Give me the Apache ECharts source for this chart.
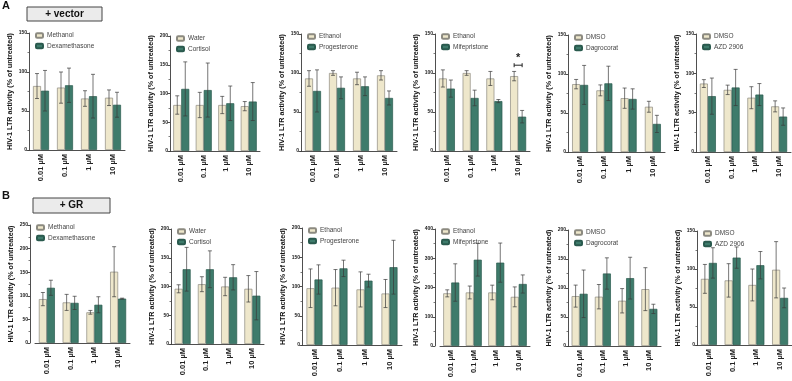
<!DOCTYPE html>
<html>
<head>
<meta charset="utf-8">
<script src="https://cdn.jsdelivr.net/npm/echarts@6/dist/echarts.min.js"></script>
<style>
  html, body { margin: 0; padding: 0; background: #fff; }
  #chart { width: 792px; height: 381px; }
</style>
</head>
<body>
<div id="chart"></div>
<script>
const categories = ['0.01 µM', '0.1 µM', '1 µM', '10 µM']

// row A: + vector (mean, sd in % of untreated)
const vecMethanol = [82, 80, 66, 67]
const vecMethanolSd = [16, 20, 10, 10]
const vecDexamethasone = [76, 83, 69, 58]
const vecDexamethasoneSd = [26, 22, 28, 16]

const vecWater = [80, 80, 80, 78]
const vecWaterSd = [16, 22, 15, 8]
const vecCortisol = [108, 106, 83, 86]
const vecCortisolSd = [47, 47, 30, 33]

const vecEthanolP = [93, 100, 93, 97]
const vecEthanolPSd = [10, 3, 8, 6]
const vecProgesterone = [77, 81, 83, 68]
const vecProgesteroneSd = [27, 14, 12, 9]

const vecEthanolM = [93, 100, 93, 96]
const vecEthanolMSd = [11, 3, 9, 6]
const vecMifepristone = [80, 68, 64, 44]
const vecMifepristoneSd = [11, 10, 2, 8]

const vecDmsoD = [87, 79, 69, 58]
const vecDmsoDSd = [6, 7, 13, 7]
const vecDagrocorat = [86, 88, 68, 36]
const vecDagrocoratSd = [25, 22, 13, 11]

const vecDmsoA = [87, 79, 69, 58]
const vecDmsoASd = [5, 6, 14, 7]
const vecAzd = [71, 82, 73, 45]
const vecAzdSd = [23, 23, 14, 11]

// row B: + GR
const grMethanol = [93, 86, 65, 151]
const grMethanolSd = [14, 17, 4, 53]
const grDexamethasone = [117, 85, 81, 94]
const grDexamethasoneSd = [16, 14, 17, 1]

const grWater = [96, 104, 100, 96]
const grWaterSd = [7, 13, 16, 23]
const grCortisol = [130, 130, 116, 84]
const grCortisolSd = [38, 32, 22, 42]

const grEthanolP = [97, 98, 95, 88]
const grEthanolPSd = [33, 31, 30, 24]
const grProgesterone = [112, 131, 110, 133]
const grProgesteroneSd = [25, 14, 11, 46]

const grEthanolM = [180, 183, 183, 168]
const grEthanolMSd = [12, 22, 25, 34]
const grMifepristone = [217, 295, 285, 212]
const grMifepristoneSd = [64, 56, 67, 31]

const grDmsoD = [86, 85, 78, 98]
const grDmsoDSd = [19, 21, 21, 37]
const grDagrocorat = [90, 125, 117, 64]
const grDagrocoratSd = [41, 27, 36, 8]

const grDmsoA = [87, 85, 79, 99]
const grDmsoASd = [19, 22, 21, 37]
const grAzd = [108, 115, 105, 62]
const grAzdSd = [20, 14, 18, 13]

// significance bracket (vector / mifepristone, 10 µM)
const sigMife = [[3, 110]]

const BEIGE = '#eee7cb'
const TEAL = '#3e7b6b'
const FONT = 'Liberation Sans'

// 面板布局
const panels = [
  { veh: 'Methanol', drug: 'Dexamethasone', v: vecMethanol, vs: vecMethanolSd, d: vecDexamethasone, ds: vecDexamethasoneSd, max: 150, step: 50, left: 29, top: 33, width: 96, height: 117, off: 0 },
  { veh: 'Water', drug: 'Cortisol', v: vecWater, vs: vecWaterSd, d: vecCortisol, ds: vecCortisolSd, max: 200, step: 50, left: 170, top: 36, width: 90, height: 115, off: 0 },
  { veh: 'Ethanol', drug: 'Progesterone', v: vecEthanolP, vs: vecEthanolPSd, d: vecProgesterone, ds: vecProgesteroneSd, max: 150, step: 50, left: 301, top: 34, width: 96, height: 117, off: 0 },
  { veh: 'Ethanol', drug: 'Mifepristone', v: vecEthanolM, vs: vecEthanolMSd, d: vecMifepristone, ds: vecMifepristoneSd, max: 150, step: 50, left: 435, top: 34, width: 95, height: 117, off: 0 },
  { veh: 'DMSO', drug: 'Dagrocorat', v: vecDmsoD, vs: vecDmsoDSd, d: vecDagrocorat, ds: vecDagrocoratSd, max: 150, step: 50, left: 568, top: 35, width: 97, height: 117, off: 0 },
  { veh: 'DMSO', drug: 'AZD 2906', v: vecDmsoA, vs: vecDmsoASd, d: vecAzd, ds: vecAzdSd, max: 150, step: 50, left: 696, top: 34, width: 95, height: 118, off: 0 },
  { veh: 'Methanol', drug: 'Dexamethasone', v: grMethanol, vs: grMethanolSd, d: grDexamethasone, ds: grDexamethasoneSd, max: 250, step: 50, left: 35, top: 225, width: 95, height: 118, off: 5 },
  { veh: 'Water', drug: 'Cortisol', v: grWater, vs: grWaterSd, d: grCortisol, ds: grCortisolSd, max: 200, step: 50, left: 171, top: 229, width: 93, height: 115, off: 0 },
  { veh: 'Ethanol', drug: 'Progesterone', v: grEthanolP, vs: grEthanolPSd, d: grProgesterone, ds: grProgesteroneSd, max: 200, step: 50, left: 302, top: 228, width: 100, height: 117, off: 0 },
  { veh: 'Ethanol', drug: 'Mifepristone', v: grEthanolM, vs: grEthanolMSd, d: grMifepristone, ds: grMifepristoneSd, max: 400, step: 100, left: 440, top: 229, width: 90, height: 117, off: 5 },
  { veh: 'DMSO', drug: 'Dagrocorat', v: grDmsoD, vs: grDmsoDSd, d: grDagrocorat, ds: grDagrocoratSd, max: 200, step: 50, left: 568, top: 230, width: 93, height: 116, off: 0 },
  { veh: 'DMSO', drug: 'AZD 2906', v: grDmsoA, vs: grDmsoASd, d: grAzd, ds: grAzdSd, max: 150, step: 50, left: 697, top: 231, width: 95, height: 114, off: 0 }
]

const BAR_W = 8

function errorSeries(idx, means, sds, side) {
  return {
    type: 'custom',
    xAxisIndex: idx,
    yAxisIndex: idx,
    z: 5,
    silent: true,
    data: means.map((m, i) => [i, m, sds[i]]),
    encode: { x: 0, y: 1 },
    renderItem(params, api) {
      const c = api.value(0)
      const m = api.value(1)
      const s = api.value(2)
      const hi = api.coord([c, m + s])
      const lo = api.coord([c, m - s])
      const x = hi[0] + side * BAR_W / 2
      const cap = 2
      const style = { stroke: '#3a3a3a', lineWidth: 0.7 }
      return {
        type: 'group',
        children: [
          { type: 'line', shape: { x1: x, y1: hi[1], x2: x, y2: lo[1] }, style },
          { type: 'line', shape: { x1: x - cap, y1: hi[1], x2: x + cap, y2: hi[1] }, style },
          { type: 'line', shape: { x1: x - cap, y1: lo[1], x2: x + cap, y2: lo[1] }, style }
        ]
      }
    }
  }
}

const grid = []
const xAxis = []
const yAxis = []
const series = []
const legend = []

panels.forEach((p, i) => {
  grid.push({ left: p.left, top: p.top, width: p.width, height: p.height })
  xAxis.push({
    type: 'category',
    gridIndex: i,
    data: categories,
    axisLine: { lineStyle: { color: '#222', width: 0.8 } },
    axisTick: { show: false },
    axisLabel: {
      rotate: 90,
      fontSize: 7.5,
      fontWeight: 'bold',
      fontFamily: FONT,
      color: '#222',
      margin: 4
    }
  })
  yAxis.push({
    type: 'value',
    gridIndex: i,
    min: 0,
    max: p.max,
    interval: p.step,
    offset: p.off,
    name: 'HIV-1 LTR activity (% of untreated)',
    nameLocation: 'middle',
    nameGap: 15,
    nameTextStyle: { fontSize: 7.2, fontWeight: 'bold', fontFamily: FONT, color: '#111' },
    axisLine: { show: true, lineStyle: { color: '#222', width: 0.8 } },
    axisTick: { show: true, length: 2.5, lineStyle: { color: '#222', width: 0.8 } },
    minorTick: { show: true, splitNumber: 2, length: 1.5, lineStyle: { color: '#222', width: 0.6 } },
    splitLine: { show: false },
    axisLabel: { fontSize: 5, fontWeight: 'bold', fontFamily: FONT, color: '#222', margin: 2 }
  })
  series.push({
    name: p.veh,
    type: 'bar',
    xAxisIndex: i,
    yAxisIndex: i,
    data: p.v,
    barWidth: BAR_W,
    barGap: '0%',
    itemStyle: { color: BEIGE, borderColor: '#8c8a80', borderWidth: 0.7 }
  })
  series.push({
    name: p.drug,
    type: 'bar',
    xAxisIndex: i,
    yAxisIndex: i,
    data: p.d,
    barWidth: BAR_W,
    barGap: '0%',
    itemStyle: { color: TEAL, borderColor: '#2a5a4e', borderWidth: 0.7 }
  })
  series.push(errorSeries(i, p.v, p.vs, -1))
  series.push(errorSeries(i, p.d, p.ds, 1))
  legend.push({
    data: [p.veh, p.drug],
    orient: 'vertical',
    left: p.left - p.off + 6,
    top: p.top - 1,
    padding: 0,
    itemWidth: 7,
    itemHeight: 4.5,
    itemGap: 3.5,
    selectedMode: false,
    textStyle: { fontSize: 6.5, fontFamily: FONT, color: '#444', padding: [0, 0, 0, -1] }
  })
})

// * bracket between ethanol and mifepristone at 10 µM
series.push({
  type: 'custom',
  xAxisIndex: 3,
  yAxisIndex: 3,
  z: 6,
  silent: true,
  data: sigMife,
  encode: { x: 0, y: 1 },
  renderItem(params, api) {
    const pt = api.coord([api.value(0), api.value(1)])
    const x1 = pt[0] - BAR_W / 2
    const x2 = pt[0] + BAR_W / 2
    const style = { stroke: '#222', lineWidth: 1 }
    return {
      type: 'group',
      children: [
        { type: 'line', shape: { x1: x1, y1: pt[1], x2: x2, y2: pt[1] }, style },
        { type: 'line', shape: { x1: x1, y1: pt[1] - 2, x2: x1, y2: pt[1] + 2 }, style },
        { type: 'line', shape: { x1: x2, y1: pt[1] - 2, x2: x2, y2: pt[1] + 2 }, style },
        { type: 'text', style: { text: '*', x: pt[0], y: pt[1] - 2, align: 'center', verticalAlign: 'bottom', font: 'bold 11px ' + FONT, fill: '#222' } }
      ]
    }
  }
})

const chart = echarts.init(document.getElementById('chart'), null, { renderer: 'canvas' })
chart.setOption({
  animation: false,
  backgroundColor: '#fff',
  grid,
  xAxis,
  yAxis,
  legend,
  series,
  graphic: [
    { type: 'text', left: 2, top: 0, style: { text: 'A', font: 'bold 11px ' + FONT, fill: '#111' } },
    { type: 'rect', shape: { x: 27, y: 7, width: 75, height: 14 }, style: { fill: '#ebebeb', stroke: '#444', lineWidth: 1 } },
    { type: 'text', style: { text: '+ vector', x: 64.5, y: 14.5, align: 'center', verticalAlign: 'middle', font: 'bold 10px ' + FONT, fill: '#111' } },
    { type: 'text', left: 2, top: 190, style: { text: 'B', font: 'bold 11px ' + FONT, fill: '#111' } },
    { type: 'rect', shape: { x: 33, y: 198, width: 77, height: 15 }, style: { fill: '#ebebeb', stroke: '#444', lineWidth: 1 } },
    { type: 'text', style: { text: '+ GR', x: 71.5, y: 205.5, align: 'center', verticalAlign: 'middle', font: 'bold 10px ' + FONT, fill: '#111' } }
  ]
})
</script>
</body>
</html>
